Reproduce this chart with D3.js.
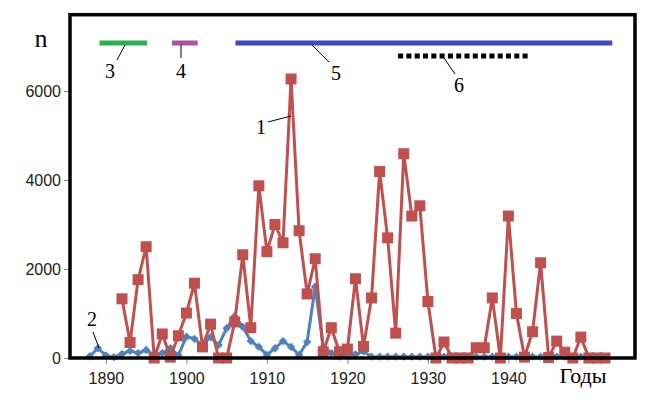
<!DOCTYPE html>
<html>
<head>
<meta charset="utf-8">
<script src="https://cdn.jsdelivr.net/npm/d3@7"></script>
<style>
  body { margin: 0; background: #fff; }
  svg { display: block; }
</style>
</head>
<body>
<script>
// Series 1 (red squares): years 1892..1952
const redStart = 1892;
const redValues = [1330, 350, 1760, 2500, 0, 540, 20, 500, 1010, 1680,
  250, 760, 0, 0, 810, 2320, 680, 3870, 2390, 3000,
  2590, 6270, 2860, 1440, 2230, 140, 680, 140, 200, 1780,
  260, 1350, 4190, 2700, 560, 4590, 3190, 3420, 1270, 0,
  360, 0, 0, 0, 230, 230, 1350, 0, 3190, 1000,
  20, 590, 2140, 10, 380, 130, 0, 470, 0, 0, 0];

// Series 2 (blue diamonds): years 1888..1950
const blueStart = 1888;
const blueValues = [40, 220, 60, 20, 90, 160, 110, 180, 60, 110,
  220, 60, 480, 430, 280, 470, 290, 670, 940, 700,
  380, 250, 70, 220, 380, 250, 70, 360, 1600, 250,
  110, 30, 60, 80, 150, 30, 30, 30, 30, 30,
  30, 30, 30, 30, 30, 30, 30, 30, 30, 30,
  30, 30, 30, 30, 30, 30, 30, 30, 30, 30,
  30, 30, 30];

// Periods drawn as bars along the top (labels 3..6)
const periodNames = ["3", "4", "5", "6"];
const periodFrom = [1889.2, 1898.2, 1906.1, 1926.3];
const periodTo = [1895.1, 1901.4, 1952.9, 1942.7];

const yTicks = [0, 2000, 4000, 6000];
const xTicks = [1890, 1900, 1910, 1920, 1930, 1940];

const W = 660, H = 401;
const frame = { left: 70, right: 635, top: 14.7, bottom: 358 };

const svg = d3.select("body").append("svg")
    .attr("width", W)
    .attr("height", H);

const x = d3.scaleLinear().domain([1900, 1940]).range([186.4, 508.4]);
const y = d3.scaleLinear().domain([0, 6000]).range([frame.bottom, 91]);

const red = redValues.map((v, i) => ({ year: redStart + i, v }));
const blue = blueValues.map((v, i) => ({ year: blueStart + i, v }));

// y axis
const yAxis = svg.append("g")
    .attr("transform", `translate(${frame.left},0)`)
    .call(d3.axisLeft(y).tickValues(yTicks).tickSize(6).tickPadding(3).tickFormat(d3.format("d")));
yAxis.select(".domain").remove();
yAxis.selectAll("line").attr("stroke", "#888");
yAxis.selectAll("text")
    .attr("font-family", "Liberation Sans, Arial, sans-serif")
    .attr("font-size", 16)
    .attr("fill", "#222");

// x axis
const xAxis = svg.append("g")
    .attr("transform", `translate(0,${frame.bottom})`)
    .call(d3.axisBottom(x).tickValues(xTicks).tickSize(6).tickPadding(9).tickFormat(d3.format("d")));
xAxis.select(".domain").remove();
xAxis.selectAll("line").attr("stroke", "#888");
xAxis.selectAll("text")
    .attr("font-family", "Liberation Sans, Arial, sans-serif")
    .attr("font-size", 16)
    .attr("fill", "#222");

// blue series
const line = d3.line().x(d => x(d.year)).y(d => y(d.v));
svg.append("path")
    .datum(blue)
    .attr("fill", "none")
    .attr("stroke", "#4f81bd")
    .attr("stroke-width", 3)
    .attr("d", line);
svg.selectAll("path.diamond")
  .data(blue)
  .enter().append("path")
    .attr("class", "diamond")
    .attr("fill", "#4f81bd")
    .attr("d", d3.symbol(d3.symbolDiamond2, 45))
    .attr("transform", d => `translate(${x(d.year)},${y(d.v)})`);

// red series
svg.append("path")
    .datum(red)
    .attr("fill", "none")
    .attr("stroke", "#c0504d")
    .attr("stroke-width", 3)
    .attr("d", line);
svg.selectAll("rect.sq")
  .data(red)
  .enter().append("rect")
    .attr("class", "sq")
    .attr("fill", "#c0504d")
    .attr("x", d => x(d.year) - 5.5)
    .attr("y", d => y(d.v) - 5.5)
    .attr("width", 11)
    .attr("height", 11);

// frame
svg.append("rect")
    .attr("x", frame.left)
    .attr("y", frame.top)
    .attr("width", frame.right - frame.left)
    .attr("height", frame.bottom - frame.top)
    .attr("fill", "none")
    .attr("stroke", "#000")
    .attr("stroke-width", 3.5);

// period bars
const periodColors = ["#2cb04e", "#a653a8", "#4349c4", "#000"];
const periodY = [43, 43, 43, 56];
periodNames.forEach((name, i) => {
  svg.append("line")
      .attr("x1", x(periodFrom[i]))
      .attr("x2", x(periodTo[i]))
      .attr("y1", periodY[i])
      .attr("y2", periodY[i])
      .attr("stroke", periodColors[i])
      .attr("stroke-width", 5)
      .attr("stroke-dasharray", name === "6" ? "5,3.3" : null);
});

// number labels with leader lines
const serif = "Liberation Serif, Times New Roman, serif";
const labels = [
  { t: "3", tx: 110, ty: 78, x1: 125, y1: 45, x2: 117, y2: 60 },
  { t: "4", tx: 181, ty: 78, x1: 181, y1: 45, x2: 181, y2: 58 },
  { t: "5", tx: 336, ty: 80, x1: 312, y1: 45, x2: 329, y2: 62 },
  { t: "6", tx: 459, ty: 92, x1: 444, y1: 58, x2: 455, y2: 74 },
  { t: "1", tx: 261, ty: 134, x1: 268, y1: 122, x2: 291, y2: 116 },
  { t: "2", tx: 92, ty: 326, x1: 93, y1: 332, x2: 99, y2: 348 }
];
labels.forEach(l => {
  svg.append("line")
      .attr("x1", l.x1).attr("y1", l.y1)
      .attr("x2", l.x2).attr("y2", l.y2)
      .attr("stroke", "#000")
      .attr("stroke-width", 1);
  svg.append("text")
      .attr("x", l.tx).attr("y", l.ty)
      .attr("text-anchor", "middle")
      .attr("font-family", serif)
      .attr("font-size", 20)
      .text(l.t);
});

// axis titles
svg.append("text")
    .attr("x", 41).attr("y", 47)
    .attr("text-anchor", "middle")
    .attr("font-family", serif)
    .attr("font-size", 26)
    .text("n");
svg.append("text")
    .attr("x", 583).attr("y", 383)
    .attr("text-anchor", "middle")
    .attr("font-family", serif)
    .attr("font-size", 22)
    .text("Годы");
</script>
</body>
</html>
